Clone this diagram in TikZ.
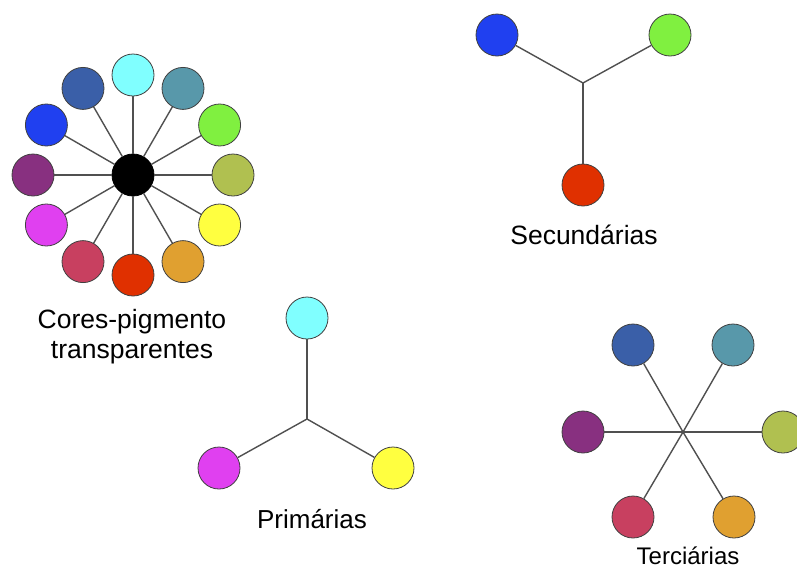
\documentclass[tikz,border=0pt]{standalone}
\usepackage{fontspec}
\setmainfont{Liberation Sans}
\usetikzlibrary{calc}
\definecolor{cCyan}{HTML}{80FFFF}
\definecolor{cDBlue}{HTML}{3A5FA8}
\definecolor{cTeal}{HTML}{5898AA}
\definecolor{cGreen}{HTML}{80F040}
\definecolor{cOlive}{HTML}{B0C050}
\definecolor{cYellow}{HTML}{FFFF40}
\definecolor{cOrange}{HTML}{E0A030}
\definecolor{cRed}{HTML}{E03000}
\definecolor{cCrimson}{HTML}{C84060}
\definecolor{cMagenta}{HTML}{E040F0}
\definecolor{cPurple}{HTML}{883080}
\definecolor{cBlue}{HTML}{2040F0}
\definecolor{lineC}{HTML}{505050}
\tikzset{
  dot/.style={circle, draw=black!75, line width=0.8pt, minimum size=42pt, inner sep=0pt, fill=#1},
  link/.style={draw=lineC, line width=1.4pt},
  lbl/.style={font=\fontsize{26.5}{30}\selectfont, text=black, align=center, inner sep=0pt}
}
\begin{document}
\begin{tikzpicture}[x=1pt,y=-1pt]
\useasboundingbox (0,0) rectangle (797,571);
% ---- wheel ----
\node[dot=black, draw=black] (hub) at (133,175) {};
\foreach \ang/\col/\nm in {90/cCyan/w1, 60/cTeal/w2, 30/cGreen/w3, 0/cOlive/w4, -30/cYellow/w5, -60/cOrange/w6, -90/cRed/w7, -120/cCrimson/w8, -150/cMagenta/w9, 180/cPurple/w10, 150/cBlue/w11, 120/cDBlue/w12}{
  \node[dot=\col] (\nm) at ($(133,175)+({100*cos(\ang)},{-100*sin(\ang)})$) {};
  \draw[link] (hub) -- (\nm);
}
\node[lbl] (lw) at (132,337) {Cores-pigmento\\transparentes};
% ---- secondary ----
\coordinate (sj) at (583,83);
\node[dot=cBlue] (s1) at (497,35) {};
\node[dot=cGreen] (s2) at (670,35) {};
\node[dot=cRed] (s3) at (583,185) {};
\draw[link] (sj) -- (s1);
\draw[link] (sj) -- (s2);
\draw[link] (sj) -- (s3);
\node[lbl] (ls) at (584,235) {Secundárias};
% ---- primary ----
\coordinate (pj) at (307,419);
\node[dot=cCyan] (p1) at (307,318) {};
\node[dot=cMagenta] (p2) at (219,468) {};
\node[dot=cYellow] (p3) at (393,468) {};
\draw[link] (pj) -- (p1);
\draw[link] (pj) -- (p2);
\draw[link] (pj) -- (p3);
\node[lbl, font=\fontsize{26}{30}\selectfont] (lp) at (312,519) {Primárias};
% ---- tertiary ----
\coordinate (tj) at (683,432);
\node[dot=cDBlue] (t1) at (633,345) {};
\node[dot=cTeal] (t2) at (733,345) {};
\node[dot=cPurple] (t3) at (583,432) {};
\node[dot=cOlive] (t4) at (783,432) {};
\node[dot=cCrimson] (t5) at (633,517) {};
\node[dot=cOrange] (t6) at (734,517) {};
\foreach \t in {t1,t2,t3,t4,t5,t6}{\draw[link] (tj) -- (\t);}
\node[lbl, font=\fontsize{24}{28}\selectfont] (lt) at (688,556) {Terciárias};
\end{tikzpicture}
\end{document}
